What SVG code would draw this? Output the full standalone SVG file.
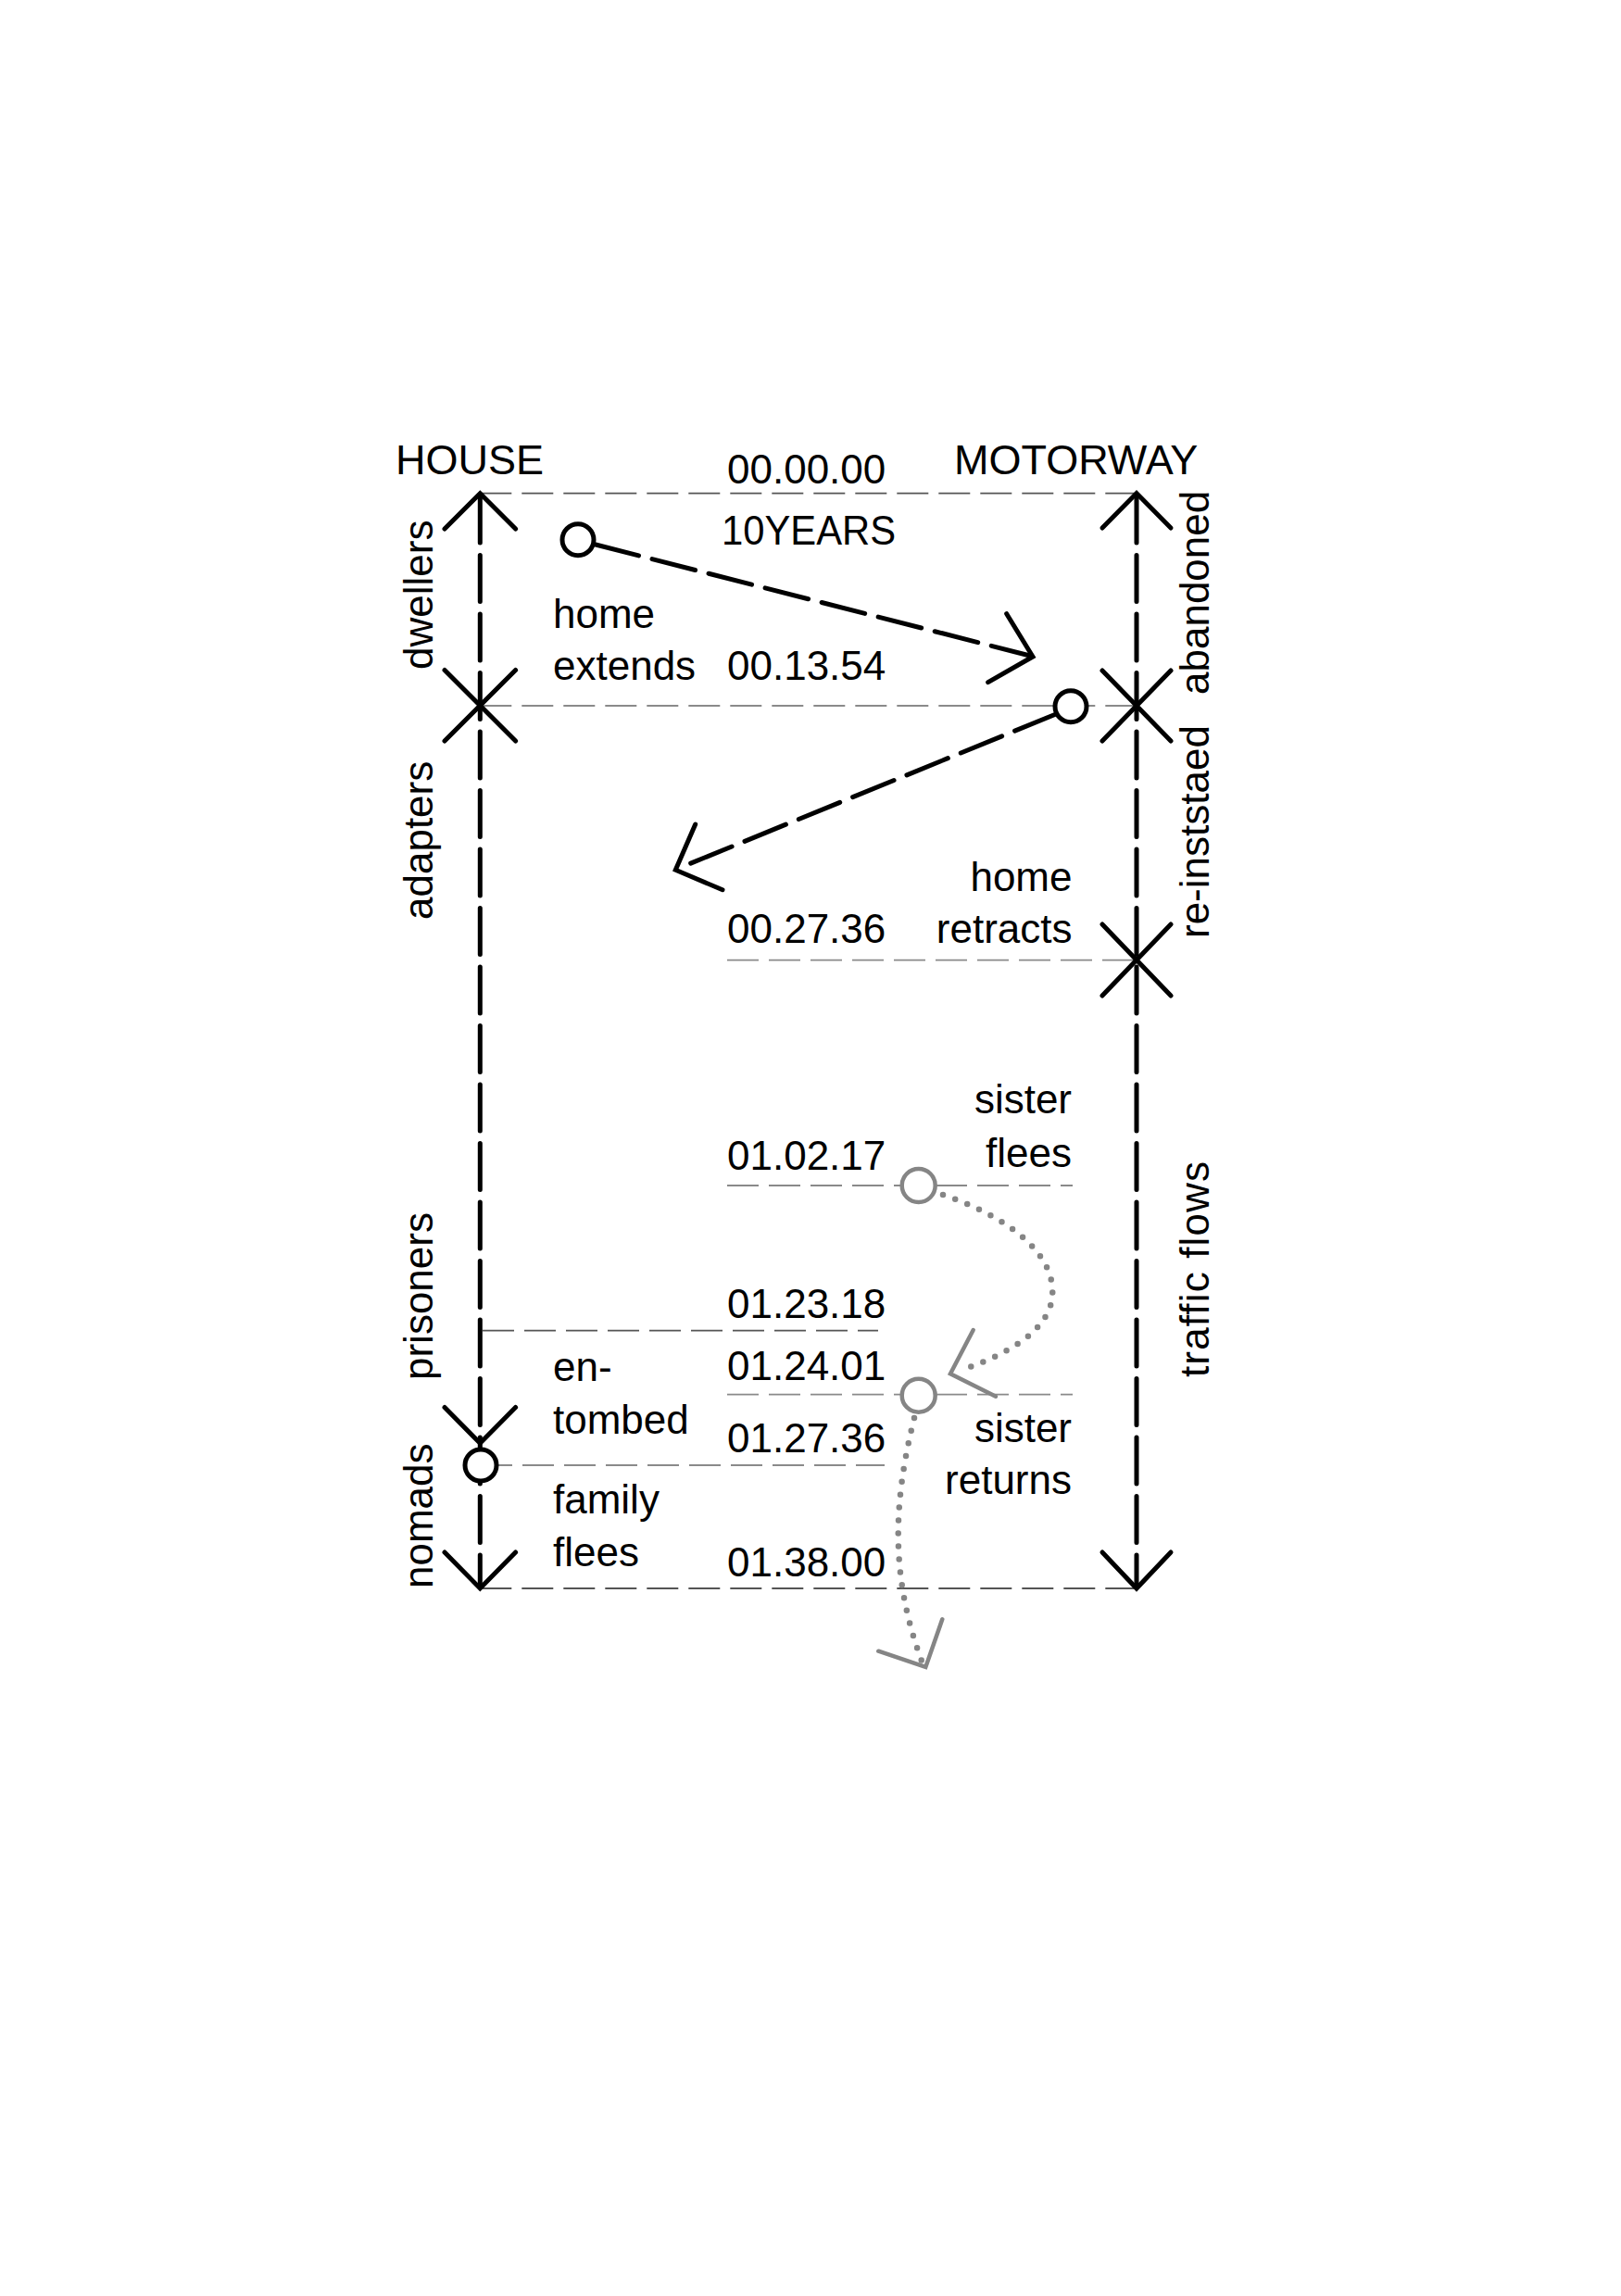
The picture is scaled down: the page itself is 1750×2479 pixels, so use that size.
<svg xmlns="http://www.w3.org/2000/svg" width="1750" height="2479" viewBox="0 0 1750 2479">
<style>
text{font-family:"Liberation Sans",Arial,sans-serif;font-size:44px;fill:#000}
.title{font-size:45px}
.end{text-anchor:end}
.axis{fill:none;stroke:#000;stroke-width:5;stroke-dasharray:50 13.5;stroke-linecap:round}
.head{fill:none;stroke:#000;stroke-width:5;stroke-linecap:round;stroke-linejoin:miter}
.flow{fill:none;stroke:#000;stroke-width:5;stroke-dasharray:48 15;stroke-linecap:round}
.tick{fill:none;stroke:#555;stroke-width:1.8;stroke-dasharray:34 11}
.tickl{fill:none;stroke:#8a8a8a;stroke-width:1.8;stroke-dasharray:34 11}
.node{fill:#fff;stroke:#000;stroke-width:5}
.gnode{fill:#fff;stroke:#858585;stroke-width:4.5}
.dots{fill:none;stroke:#858585;stroke-width:6.5;stroke-dasharray:0 14;stroke-linecap:round}
.ghead{fill:none;stroke:#858585;stroke-width:4.5;stroke-linecap:round}
</style>
<rect width="1750" height="2479" fill="#fff"/>

<g id="timelines">
  <line class="tick" x1="518.3" y1="532.7" x2="1227" y2="532.7"/>
  <line class="tickl" x1="518.3" y1="762" x2="1227" y2="762"/>
  <line class="tickl" x1="785" y1="1036.7" x2="1227" y2="1036.7"/>
  <line class="tickl" x1="785" y1="1280" x2="1158" y2="1280"/>
  <line class="tick" x1="521" y1="1436.7" x2="948" y2="1436.7"/>
  <line class="tickl" x1="785" y1="1505.7" x2="1158" y2="1505.7"/>
  <line class="tickl" x1="519" y1="1582" x2="955" y2="1582"/>
  <line class="tick" x1="518.3" y1="1715" x2="1227" y2="1715"/>
</g>

<g id="house-axis">
  <line class="axis" x1="518.3" y1="536" x2="518.3" y2="1712"/>
  <path class="head" d="M480,571 L518.3,532.7 L556.6,571"/>
  <path class="head" d="M480,723.5 L556.6,800 M556.6,723.5 L480,800"/>
  <path class="head" d="M480,1519.5 L518.3,1558.3 L556.6,1519.5"/>
  <path class="head" d="M480,1676 L518.3,1715 L556.6,1676"/>
  <circle class="node" cx="519" cy="1582" r="17"/>
</g>

<g id="motorway-axis">
  <line class="axis" x1="1227" y1="536" x2="1227" y2="1712"/>
  <path class="head" d="M1190,570 L1227,532.5 L1264,570"/>
  <path class="head" d="M1190,724 L1264,800 M1264,724 L1190,800"/>
  <path class="head" d="M1190,998 L1264,1075 M1264,998 L1190,1075"/>
  <path class="head" d="M1190,1676 L1227,1715 L1264,1676"/>
</g>

<g id="connectors">
  <line class="flow" x1="643" y1="588" x2="1110" y2="707.5"/>
  <path class="head" d="M1086.7,662.7 L1115,709 L1066.7,736.7"/>
  <line class="flow" x1="1140" y1="771" x2="735" y2="936.5"/>
  <path class="head" d="M750.7,890 L729.3,939.3 L780,960.7"/>
  <path class="dots" d="M1018,1290 C1100,1318 1140,1360 1136,1400 C1132,1440 1080,1465 1036,1480"/>
  <path class="ghead" d="M1050.7,1436 L1026,1483.3 L1075,1507.7"/>
  <path class="dots" d="M987,1531 C965,1620 960,1700 996,1796"/>
  <path class="ghead" d="M1017.3,1748.3 L999.3,1800 L948.3,1782.7"/>
</g>

<g id="node-home-extends">
  <circle class="node" cx="624" cy="582.7" r="17"/>
</g>
<g id="node-home-retracts">
  <circle class="node" cx="1156" cy="762.7" r="17"/>
</g>
<g id="node-sister-flees">
  <circle class="gnode" cx="991.7" cy="1280" r="18"/>
</g>
<g id="node-sister-returns">
  <circle class="gnode" cx="991.7" cy="1506.7" r="18"/>
</g>

<g id="headings">
  <text class="title" x="427" y="512">HOUSE</text>
  <text class="title" x="1030" y="512">MOTORWAY</text>
  <text x="785" y="521.7">00.00.00</text>
  <text x="779" y="588" textLength="188" lengthAdjust="spacingAndGlyphs">10YEARS</text>
</g>

<g id="times">
  <text x="785" y="734">00.13.54</text>
  <text x="785" y="1018.3">00.27.36</text>
  <text x="785" y="1263.3">01.02.17</text>
  <text x="785" y="1423.3">01.23.18</text>
  <text x="785" y="1490">01.24.01</text>
  <text x="785" y="1568.3">01.27.36</text>
  <text x="785" y="1701.7">01.38.00</text>
</g>

<g id="event-labels">
  <text x="597" y="678.3">home</text>
  <text x="597" y="734">extends</text>
  <text class="end" x="1157.5" y="961.7">home</text>
  <text class="end" x="1157.5" y="1018.3">retracts</text>
  <text class="end" x="1157" y="1201.7">sister</text>
  <text class="end" x="1157" y="1260">flees</text>
  <text x="597" y="1491">en-</text>
  <text x="597" y="1547.5">tombed</text>
  <text class="end" x="1157" y="1556.7">sister</text>
  <text class="end" x="1157" y="1613.3">returns</text>
  <text x="597" y="1634">family</text>
  <text x="597" y="1691">flees</text>
</g>

<g id="phase-labels">
  <text transform="translate(467,723) rotate(-90)">dwellers</text>
  <text transform="translate(467,993) rotate(-90)">adapters</text>
  <text transform="translate(467,1490) rotate(-90)">prisoners</text>
  <text transform="translate(467,1715) rotate(-90)">nomads</text>
  <text transform="translate(1305,750) rotate(-90)">abandoned</text>
  <text transform="translate(1305,1013) rotate(-90)">re-inststaed</text>
  <text transform="translate(1305,1487) rotate(-90)" textLength="233" lengthAdjust="spacing">traffic flows</text>
</g>
</svg>
